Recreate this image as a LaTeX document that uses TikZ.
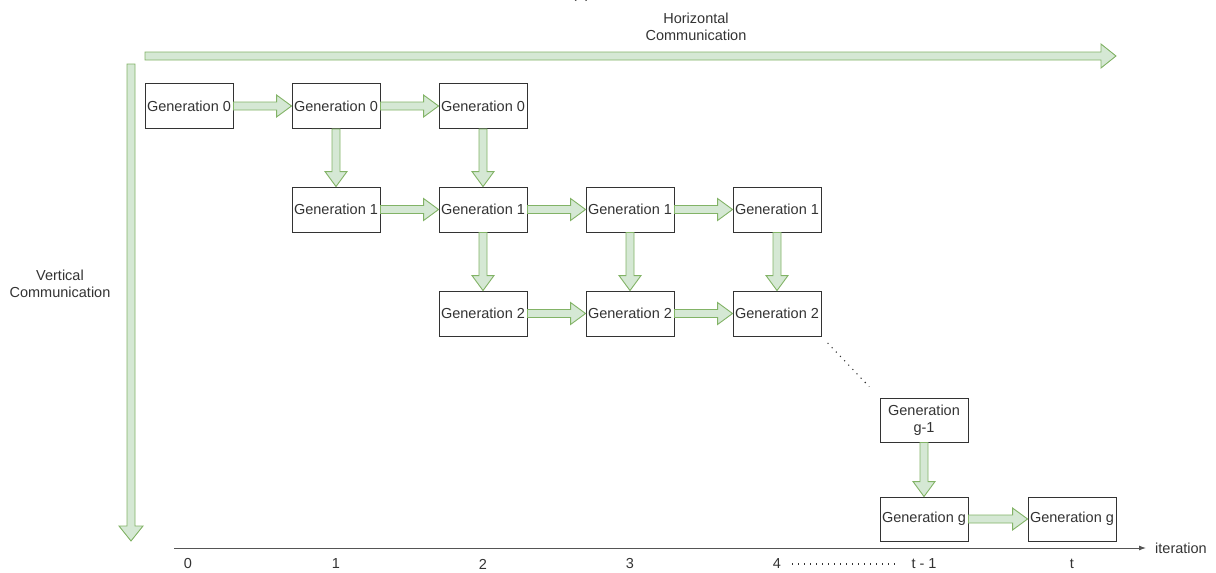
\documentclass[tikz,border=0pt]{standalone}
\usepackage{fontspec}
\setmainfont{Liberation Sans}
\usetikzlibrary{calc,arrows.meta}
\definecolor{gfill}{HTML}{D5E8D4}
\definecolor{gline}{HTML}{82B366}
\definecolor{txt}{HTML}{333333}
\definecolor{axis}{HTML}{555555}
\newcommand{\hblkg}[5]{\filldraw[blk] let \p1=(#1), \p2=(#2) in (\x1,\y1+#3) -- (\x2-#5,\y1+#3) -- (\x2-#5,\y1+#4) -- (\x2,\y1) -- (\x2-#5,\y1-#4) -- (\x2-#5,\y1-#3) -- (\x1,\y1-#3) -- cycle;}
\newcommand{\vblkg}[5]{\filldraw[blk] let \p1=(#1), \p2=(#2) in (\x1-#3,\y1) -- (\x1-#3,\y2+#5) -- (\x1-#4,\y2+#5) -- (\x1,\y2) -- (\x1+#4,\y2+#5) -- (\x1+#3,\y2+#5) -- (\x1+#3,\y1) -- cycle;}
\newcommand{\hblk}[2]{\hblkg{#1.east}{#2.west}{4pt}{11pt}{15pt}}
\newcommand{\vblk}[2]{\vblkg{#1.south}{#2.north}{4pt}{11pt}{15pt}}
\begin{document}
\begin{tikzpicture}[x=1pt,y=-1pt,
  blk/.style={fill=gfill,draw=gline,line width=0.9pt,line join=miter},
  gen/.style={draw=txt,line width=0.9pt,minimum width=88pt,minimum height=45pt,inner sep=0pt,text=txt,font=\fontsize{14.5}{17}\selectfont,align=center},
  lbl/.style={text=txt,font=\fontsize{14.5}{17}\selectfont,align=center,inner sep=0pt},
  dots/.style={draw=txt,line width=1.1pt,dash pattern=on 1.1pt off 4.9pt}]
\useasboundingbox (0,0) rectangle (1216,573);
% title fragment
\node[lbl,anchor=base] (title) at (581,-1.5) {(a)};
% communication labels
\node[lbl] (hc) at (696,26.5) {Horizontal\\Communication};
\node[lbl] (vc) at (60,284) {Vertical\\Communication};
% big arrows
\coordinate (hs) at (145,56);
\coordinate (he) at (1116,56);
\hblkg{hs}{he}{4pt}{12pt}{15pt}
\coordinate (vs) at (131,64);
\coordinate (ve) at (131,541);
\vblkg{vs}{ve}{4pt}{12pt}{15pt}
% boxes
\node[gen] (a0) at (189,106) {Generation 0};
\node[gen] (a1) at (336,106) {Generation 0};
\node[gen] (a2) at (483,106) {Generation 0};
\node[gen] (b1) at (336,209.5) {Generation 1};
\node[gen] (b2) at (483,209.5) {Generation 1};
\node[gen] (b3) at (630,209.5) {Generation 1};
\node[gen] (b4) at (777,209.5) {Generation 1};
\node[gen] (c2) at (483,313.5) {Generation 2};
\node[gen] (c3) at (630,313.5) {Generation 2};
\node[gen] (c4) at (777,313.5) {Generation 2};
\node[gen,minimum height=44pt] (gm) at (924,420) {Generation\\g-1};
\node[gen,minimum height=44pt] (g5) at (924,519) {Generation g};
\node[gen,minimum height=44pt] (g6) at (1072,519) {Generation g};
% block arrows
\hblk{a0}{a1}
\hblk{a1}{a2}
\vblk{a1}{b1}
\vblk{a2}{b2}
\hblk{b1}{b2}
\hblk{b2}{b3}
\hblk{b3}{b4}
\vblk{b2}{c2}
\vblk{b3}{c3}
\vblk{b4}{c4}
\hblk{c2}{c3}
\hblk{c3}{c4}
\vblk{gm}{g5}
\hblk{g5}{g6}
\draw[dots,shorten <=9pt,shorten >=15pt] (c4.south east) -- (gm.north west);
% axis
\coordinate (ax0) at (174,548);
\coordinate (ax1) at (1146,548);
\draw[axis,line width=0.9pt,-{Latex[length=7pt,width=5pt]}] (ax0) -- (ax1);
\node[lbl,anchor=west] (it) at (1155,548) {iteration};
\node[lbl] (l0) at (188,564) {0};
\node[lbl] (l1) at (336,564) {1};
\node[lbl] (l2) at (483,564) {2};
\node[lbl] (l3) at (630,564) {3};
\node[lbl] (l4) at (777,564) {4};
\node[lbl] (l5) at (924,564) {t - 1};
\node[lbl] (l6) at (1072,564) {t};
\draw[dots,shorten <=11pt,shorten >=13pt] (l4.east) -- (l5.west);
\end{tikzpicture}
\end{document}
